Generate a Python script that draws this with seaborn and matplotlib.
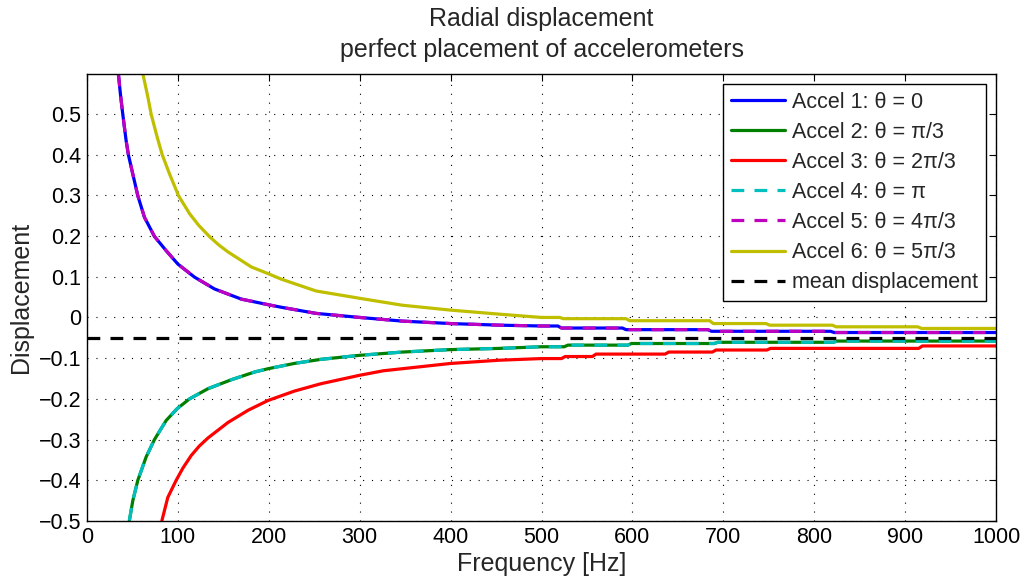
import numpy as np
import pandas as pd
import matplotlib
matplotlib.use("Agg")
import matplotlib.pyplot as plt
import seaborn as sns

# ---- data ----
f_a1 = [34.5, 36.7, 39.3, 43.0, 45.5, 50.3, 55.9, 63.2, 74.2, 87.1, 100, 118.3, 140.3, 169.8,
        200, 213.8, 252, 300, 347, 400, 454, 500,
        518, 522, 589, 593, 683, 687, 818, 822, 1000]
v_a1 = [0.599, 0.55, 0.5, 0.435, 0.4, 0.353, 0.299, 0.246, 0.199, 0.164, 0.131, 0.099, 0.070, 0.045,
        0.031, 0.025, 0.01, 0.0, -0.009, -0.015, -0.019, -0.021,
        -0.021, -0.026, -0.026, -0.030, -0.030, -0.034, -0.034, -0.037, -0.037]

f_a2 = [46.6, 50.4, 55.9, 65.0, 74.2, 87.1, 99.2, 112.8, 133.1, 158.8, 184.4, 199.1, 228, 257,
        300, 347, 400, 454, 500,
        525, 529, 595, 599, 690, 694, 821, 825, 1000]
v_a2 = [-0.499, -0.45, -0.4, -0.343, -0.3, -0.253, -0.224, -0.2, -0.175, -0.153, -0.134, -0.126, -0.113, -0.103,
        -0.093, -0.085, -0.079, -0.076, -0.072,
        -0.072, -0.068, -0.068, -0.064, -0.064, -0.061, -0.061, -0.058, -0.058]

f_a3 = [82.4, 88.9, 98.1, 105.5, 114.7, 123.5, 133.1, 155.1, 177.2, 199.1, 228, 257, 300, 326, 400, 454, 500,
        522, 526, 556, 560, 636, 640, 688, 692, 748, 752, 915, 919, 1000]
v_a3 = [-0.499, -0.442, -0.4, -0.37, -0.339, -0.316, -0.296, -0.258, -0.228, -0.204, -0.181, -0.163,
        -0.142, -0.131, -0.113, -0.105, -0.101,
        -0.101, -0.096, -0.096, -0.090, -0.090, -0.085, -0.085, -0.080, -0.080, -0.076, -0.076, -0.070, -0.070]

f_a4 = list(f_a2)
v_a4 = list(v_a2)
f_a5 = list(f_a1)
v_a5 = list(v_a1)

f_a6 = [61.4, 66.9, 70.6, 77.2, 82.7, 90.7, 100.7, 112.8, 123.0, 135.0, 145.0, 155.1, 180.8, 199.9, 213.8,
        252, 300, 347, 400, 454, 500,
        520, 524, 593, 597, 685, 689, 747, 751, 820, 824, 914, 918, 1000]
v_a6 = [0.599, 0.542, 0.499, 0.443, 0.4, 0.353, 0.299, 0.255, 0.226, 0.198, 0.178, 0.161, 0.124, 0.107, 0.094,
        0.065, 0.047, 0.030, 0.018, 0.008, 0.0,
        0.0, -0.003, -0.003, -0.008, -0.008, -0.015, -0.015, -0.019, -0.019, -0.023, -0.023, -0.027, -0.027]

f_mean = [0, 1000]
v_mean = [-0.05, -0.05]

labels = ["Accel 1: θ = 0", "Accel 2: θ = π/3", "Accel 3: θ = 2π/3",
          "Accel 4: θ = π", "Accel 5: θ = 4π/3", "Accel 6: θ = 5π/3",
          "mean displacement"]
colors = ["#0000ff", "#008000", "#ff0000", "#00bfbf", "#bf00bf", "#bfbf00", "#000000"]
dashed = [False, False, False, True, True, False, True]

x_ticks = list(range(0, 1001, 100))
y_ticks = [-0.5, -0.4, -0.3, -0.2, -0.1, 0, 0.1, 0.2, 0.3, 0.4, 0.5]
y_ticklabels = ["\u22120.5", "\u22120.4", "\u22120.3", "\u22120.2", "\u22120.1", "0",
                "0.1", "0.2", "0.3", "0.4", "0.5"]

series = [(f_a1, v_a1), (f_a2, v_a2), (f_a3, v_a3), (f_a4, v_a4),
          (f_a5, v_a5), (f_a6, v_a6), (f_mean, v_mean)]

# ---- plot ----
sns.set_style("white")
plt.rcParams["font.family"] = ["Liberation Sans", "DejaVu Sans"]
plt.rcParams["axes.unicode_minus"] = True

fig = plt.figure(figsize=(10.22, 5.79), dpi=100)
ax = fig.add_axes([87 / 1022, 1 - 521 / 579, (996 - 87) / 1022, (521 - 74) / 579])

for (fx, vy), lab, c, d in zip(series, labels, colors, dashed):
    df = pd.DataFrame({"f": fx, "v": vy})
    sns.lineplot(data=df, x="f", y="v", ax=ax, color=c, lw=2.3, label=lab,
                 estimator=None, sort=False)
    line = ax.lines[-1]
    if d:
        line.set_dashes((4.0, 3.2))

ax.set_xlim(0, 1000)
ax.set_ylim(-0.5, 0.598)
ax.set_xticks(x_ticks)
ax.set_yticks(y_ticks)
ax.set_yticklabels(y_ticklabels)
ax.tick_params(direction="in", top=True, right=True, length=5, width=0.8,
               labelsize=15.5, colors="black", pad=4)
ax.grid(True, color="black", linestyle=(0, (1, 7)), linewidth=0.8)
for s in ax.spines.values():
    s.set_visible(True)
    s.set_color("black")
    s.set_linewidth(1.0)

ax.set_xlabel("Frequency [Hz]", fontsize=18, labelpad=3)
ax.set_ylabel("Displacement", fontsize=18, labelpad=4)
ax.set_title("Radial displacement\nperfect placement of accelerometers", fontsize=18,
             pad=12, linespacing=1.4)

leg = ax.legend(loc="upper right", fontsize=15.5, frameon=True, fancybox=False,
                handlelength=2.5, handletextpad=0.32, borderpad=0.38, labelspacing=0.42,
                borderaxespad=0.45, edgecolor="black", framealpha=1)
leg.get_frame().set_linewidth(1.0)

fig.savefig("out.png", dpi=100)
